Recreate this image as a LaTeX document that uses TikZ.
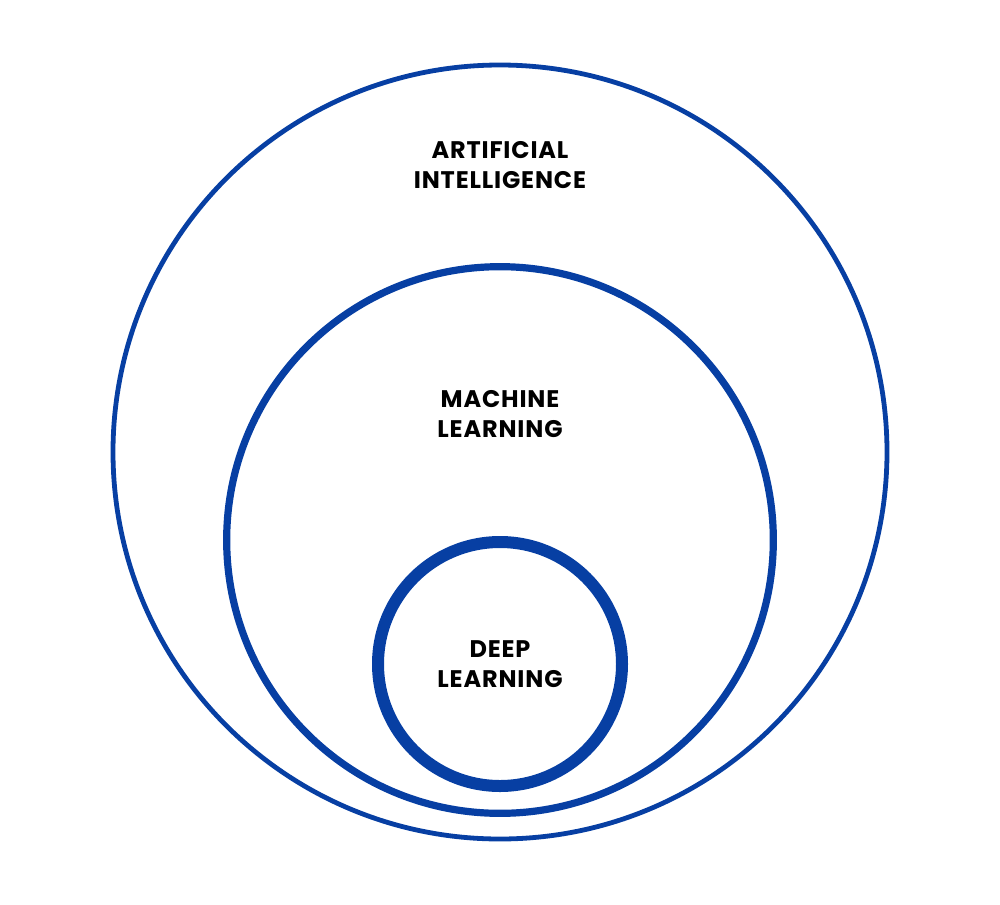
\documentclass[tikz,border=0pt]{standalone}
\usepackage{fontspec}
\setmainfont{Poppins}[BoldFont={* Bold}, BoldFeatures={LetterSpace=3.5}]
\usepackage{tikz}
\usetikzlibrary{positioning}
\definecolor{ringblue}{HTML}{073FA3}
\tikzset{
	x=0.75pt, y=-0.75pt,
	ring/.style={circle, draw=ringblue, inner sep=0pt},
	caption/.style={align=center, font=\fontsize{18}{22.5}\selectfont\bfseries}
}

\begin{document}
\begin{tikzpicture}
\useasboundingbox (0,0) rectangle (1000,904);

% the three rings
\node[ring, line width=3.6pt, minimum size=580.5pt] (ai) at (500,452) {};
\node[ring, line width=5.4pt, minimum size=410pt] (ml) at (500,540) {};
\node[ring, line width=9pt, minimum size=183pt] (dl) at (500,664) {};

% captions
\node[caption] (ailabel) at (500,165) {ARTIFICIAL\\INTELLIGENCE};
\node[caption] (mllabel) at (500,414) {MACHINE\\LEARNING};
\node[caption] (dllabel) at (dl.center) {DEEP\\LEARNING};
\end{tikzpicture}
\end{document}
